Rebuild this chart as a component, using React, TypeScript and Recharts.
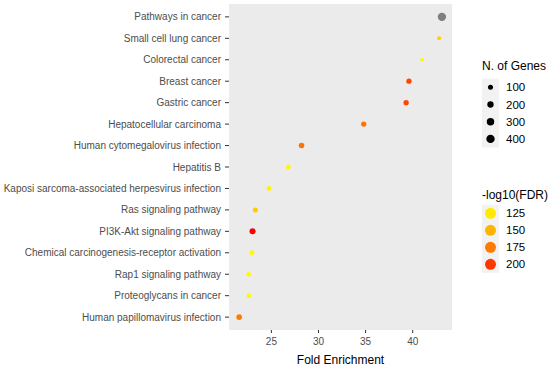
import { ScatterChart, Scatter, XAxis, YAxis, ZAxis, CartesianGrid, Cell } from "recharts"

const terms = [
  "Pathways in cancer",
  "Small cell lung cancer",
  "Colorectal cancer",
  "Breast cancer",
  "Gastric cancer",
  "Hepatocellular carcinoma",
  "Human cytomegalovirus infection",
  "Hepatitis B",
  "Kaposi sarcoma-associated herpesvirus infection",
  "Ras signaling pathway",
  "PI3K-Akt signaling pathway",
  "Chemical carcinogenesis-receptor activation",
  "Rap1 signaling pathway",
  "Proteoglycans in cancer",
  "Human papillomavirus infection",
]
const foldEnrichment = [43.1, 42.8, 41.0, 39.6, 39.3, 34.8, 28.2, 26.8, 24.75, 23.3, 23.0, 22.95, 22.6, 22.6, 21.58]
const geneCounts = [600, 60, 35, 180, 180, 180, 210, 135, 135, 150, 265, 135, 110, 110, 210]
const log10FDR = [260, 138, 118, 195, 195, 178, 178, 118, 120, 140, 215, 118, 118, 118, 175]

const xTicks = [25, 30, 35, 40]
const sizeLegend = [100, 200, 300, 400]
const fdrLegend = [125, 150, 175, 200]

const FDR_MIN = 115
const FDR_MAX = 215
const FONT = "'Liberation Sans', Arial, sans-serif"

// area range for the size scale (gene count 0..400)
const AREA_MIN = Math.PI * 2.47
const AREA_MAX = Math.PI * 17.6

const rows = terms.map((term, i) => ({
  term,
  idx: i,
  fe: foldEnrichment[i],
  genes: geneCounts[i],
  fdr: log10FDR[i],
}))

function fdrColor(v: number) {
  if (v > FDR_MAX) return "#7F7F7F"
  const t = Math.min(1, Math.max(0, (v - FDR_MIN) / (FDR_MAX - FDR_MIN)))
  const g = Math.round(255 * Math.pow(1 - t, 0.8))
  return `rgb(255,${g},0)`
}

const sizeRadius = (n: number) => Math.sqrt((AREA_MIN + ((AREA_MAX - AREA_MIN) * n) / 400) / Math.PI)

function TermTick(props: any) {
  const { x, y, payload } = props
  return (
    <text x={x} y={y} textAnchor="end" dominantBaseline="central" fontSize={10} fill="#4D4D4D" fontFamily={FONT}>
      {terms[payload.value]}
    </text>
  )
}

function Legends() {
  const keyX = 482
  const keyW = 17
  const step = 17.2
  const sizeTop = 78.7
  const fdrTop = 204.8
  return (
    <svg
      width={550}
      height={367}
      style={{ position: "absolute", left: 0, top: 0, pointerEvents: "none" }}
      fontFamily={FONT}
    >
      <text x={keyX} y={66} fontSize={12} dominantBaseline="central" fill="#000">
        N. of Genes
      </text>
      <rect x={keyX} y={sizeTop} width={keyW} height={step * sizeLegend.length} fill="#F2F2F2" />
      {sizeLegend.map((n, i) => (
        <g key={n}>
          <circle cx={keyX + keyW / 2} cy={sizeTop + step * (i + 0.5)} r={sizeRadius(n)} fill="#000" />
          <text x={506} y={sizeTop + step * (i + 0.5)} fontSize={11.5} dominantBaseline="central" fill="#000">
            {n}
          </text>
        </g>
      ))}
      <text x={keyX} y={195} fontSize={12} dominantBaseline="central" fill="#000">
        -log10(FDR)
      </text>
      <rect x={keyX} y={fdrTop} width={keyW} height={17 * fdrLegend.length} fill="#F2F2F2" />
      {fdrLegend.map((v, i) => (
        <g key={v}>
          <circle cx={keyX + keyW / 2} cy={fdrTop + 17 * (i + 0.5)} r={5.5} fill={fdrColor(v)} />
          <text x={506} y={fdrTop + 17 * (i + 0.5)} fontSize={11.5} dominantBaseline="central" fill="#000">
            {v}
          </text>
        </g>
      ))}
    </svg>
  )
}

export default function App() {
  return (
    <div style={{ position: "absolute", left: 0, top: 0, width: 550, height: 367, background: "#fff" }}>
      <ScatterChart width={550} height={367} margin={{ top: 4, right: 98, left: 0, bottom: 0 }}>
        <CartesianGrid horizontal={false} vertical={false} fill="#EBEBEB" stroke="#EBEBEB" />
        <XAxis
          type="number"
          dataKey="fe"
          domain={[20.5, 44.17]}
          ticks={xTicks}
          allowDataOverflow
          height={37}
          axisLine={false}
          tickSize={3}
          tickMargin={5}
          tickLine={{ stroke: "#333333" }}
          tick={{ fontSize: 10, fill: "#4D4D4D", fontFamily: FONT }}
          label={{
            value: "Fold Enrichment",
            position: "insideBottom",
            offset: 3,
            style: { fontSize: 12, fill: "#000", fontFamily: FONT },
          }}
        />
        <YAxis
          type="number"
          dataKey="idx"
          reversed
          domain={[-0.6, 14.6]}
          ticks={terms.map((_, i) => i)}
          interval={0}
          width={229}
          axisLine={false}
          tickSize={4}
          tickMargin={4}
          tickLine={{ stroke: "#333333" }}
          tick={<TermTick />}
        />
        <ZAxis type="number" dataKey="genes" domain={[0, 400]} range={[AREA_MIN, AREA_MAX]} />
        <Scatter data={rows} isAnimationActive={false}>
          {rows.map((r) => (
            <Cell key={r.term} fill={fdrColor(r.fdr)} />
          ))}
        </Scatter>
      </ScatterChart>
      <Legends />
    </div>
  )
}
